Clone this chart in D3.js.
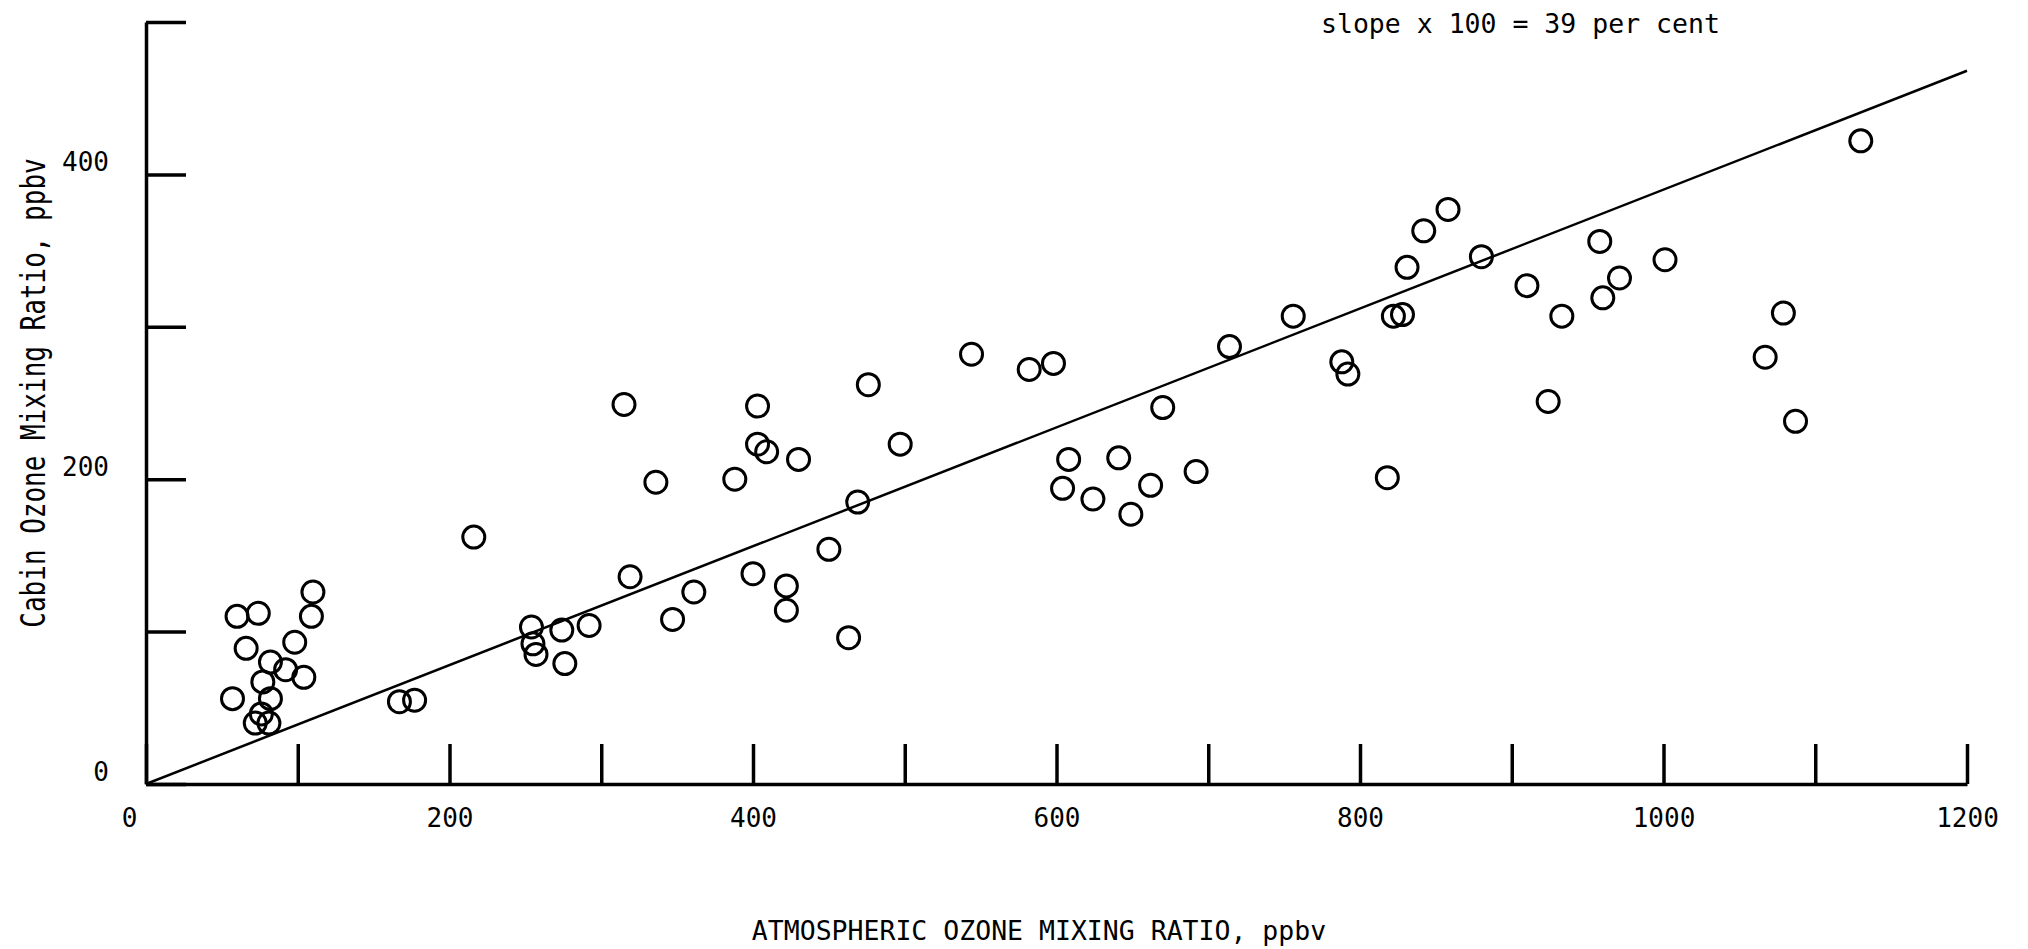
<!DOCTYPE html>
<html>
<head>
<meta charset="utf-8">
<script src="https://cdn.jsdelivr.net/npm/d3@7"></script>
<style>
    body { margin: 0; background: #fff; }
    svg { display: block; background: #fff; }
    .axis path, .axis line { stroke: #000; stroke-width: 3.5; }
    .axis text { font-family: "DejaVu Sans Mono", monospace; font-size: 26px; fill: #000; }
    .point { fill: none; stroke: #000; stroke-width: 3; }
    .fit { fill: none; stroke: #000; stroke-width: 2.5; }
    .label { font-family: "DejaVu Sans Mono", monospace; font-size: 26.5px; fill: #000; }
</style>
</head>
<body>
<div id="chart"></div>
<script>

// atmospheric ozone mixing ratio (ppbv) for each flight sample
const atmospheric = [
    60, 74, 66, 82, 98, 110, 109, 92, 104, 77, 57, 82, 76, 72, 81,
    167, 177, 216, 254, 255, 257, 274, 276, 292, 319, 315, 336, 347, 361,
    388, 400, 403, 403, 409, 422, 422, 430, 450, 463, 469, 476, 497,
    544, 582, 598, 604, 608, 624, 641, 649, 662, 670, 692, 714, 756,
    788, 792, 818, 822, 828, 831, 842, 858, 880, 910, 924, 933, 958, 960, 971,
    1001, 1067, 1079, 1087, 1130
];

// cabin ozone mixing ratio (ppbv), same order
const cabin = [
    110, 112, 89, 80, 93, 126, 110, 75, 70, 67, 56, 56, 46, 40, 40,
    54, 55, 162, 103, 92, 85, 101, 79, 104, 136, 249, 198, 108, 126,
    200, 138, 248, 223, 218, 130, 114, 213, 154, 96, 185, 262, 223,
    282, 272, 276, 194, 213, 187, 214, 177, 196, 247, 205, 287, 307,
    277, 269, 201, 307, 308, 339, 363, 377, 346, 327, 251, 307, 356, 319, 332,
    344, 280, 309, 238, 422
];

// fitted line through the origin
const slope = 0.39;
const fitRange = [0, 1200];

const xTickValues = [0, 100, 200, 300, 400, 500, 600, 700, 800, 900, 1000, 1100, 1200];
const xLabelValues = [0, 200, 400, 600, 800, 1000, 1200];
const yTickValues = [0, 100, 200, 300, 400, 500];
const yLabelValues = [0, 200, 400];

let margin = {top: 22, right: 61, bottom: 165, left: 146};
let width = 2028 - margin.left - margin.right;
let height = 949 - margin.top - margin.bottom;

let svg = d3.select("#chart").append("svg")
    .attr("width", 2028)
    .attr("height", 949)
    .append("g")
    .attr("transform", "translate(" + margin.left + "," + margin.top + ")");

// Scales
let x = d3.scaleLinear().domain([0, 1200]).range([0, width]);
let y = d3.scaleLinear().domain([0, 500]).range([height, 0]);

// Axes, ticks point inward
let xAxis = d3.axisBottom(x)
    .tickValues(xTickValues)
    .tickSizeInner(-40)
    .tickSizeOuter(0)
    .tickPadding(25)
    .tickFormat(d => xLabelValues.includes(d) ? d : "");

let yAxis = d3.axisLeft(y)
    .tickValues(yTickValues)
    .tickSizeInner(-40)
    .tickSizeOuter(0)
    .tickPadding(37)
    .tickFormat(d => yLabelValues.includes(d) ? d : "");

let xAxisGroup = svg.append("g")
    .attr("class", "axis x-axis")
    .attr("transform", "translate(0," + height + ")")
    .call(xAxis);

xAxisGroup.selectAll(".tick text")
    .filter(d => d === 0)
    .attr("dx", -17);

svg.append("g")
    .attr("class", "axis y-axis")
    .call(yAxis)
    .selectAll(".tick text")
    .attr("dy", "-0.15em");

// Fit line
let lineGenerator = d3.line()
    .x(d => x(d))
    .y(d => y(d * slope));

svg.append("path")
    .attr("class", "fit")
    .attr("d", lineGenerator(fitRange));

// Points
svg.selectAll(".point")
    .data(atmospheric)
    .enter().append("circle")
    .attr("class", "point")
    .attr("cx", d => x(d))
    .attr("cy", (d, i) => y(cabin[i]))
    .attr("r", 11);

// Labels
svg.append("text")
    .attr("class", "label")
    .attr("text-anchor", "middle")
    .attr("x", 893)
    .attr("y", 918)
    .text("ATMOSPHERIC OZONE MIXING RATIO, ppbv");

// typewriter lettering on the y title is taller than it is wide
svg.append("text")
    .attr("class", "label")
    .attr("text-anchor", "middle")
    .attr("transform", "translate(-101,371) rotate(-90) scale(1,1.3)")
    .style("font-size", "26px")
    .text("Cabin Ozone Mixing Ratio, ppbv");

svg.append("text")
    .attr("class", "label")
    .attr("x", 1175)
    .attr("y", 11)
    .text("slope x 100 = 39 per cent");

</script>
</body>
</html>
